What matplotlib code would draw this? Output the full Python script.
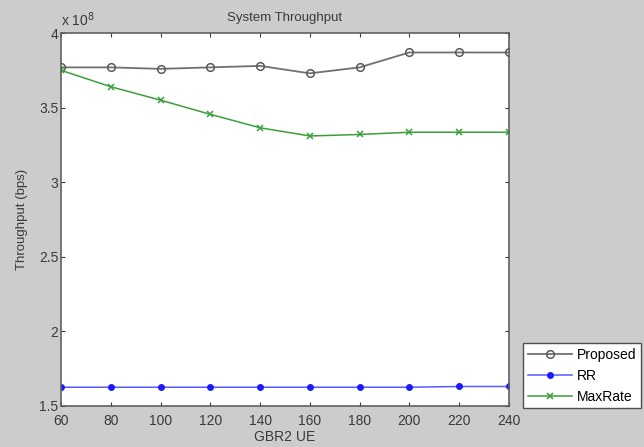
import matplotlib
matplotlib.use("Agg")
import matplotlib.pyplot as plt

# number of GBR2 UEs
gbr2_ue = [60, 80, 100, 120, 140, 160, 180, 200, 220, 240]

# throughput in units of 1e8 bps
proposed = [3.77, 3.77, 3.76, 3.77, 3.78, 3.73, 3.77, 3.87, 3.87, 3.87]
rr = [1.625, 1.625, 1.625, 1.625, 1.625, 1.625, 1.625, 1.625, 1.63, 1.63]
maxrate = [3.75, 3.64, 3.55, 3.455, 3.365, 3.31, 3.32, 3.335, 3.335, 3.335]

x_ticks = [60, 80, 100, 120, 140, 160, 180, 200, 220, 240]
y_ticks = [1.5, 2, 2.5, 3, 3.5, 4]
y_tick_labels = ["1.5", "2", "2.5", "3", "3.5", "4"]

plt.rcParams["font.family"] = ["Liberation Sans", "DejaVu Sans"]

fig = plt.figure(figsize=(6.44, 4.47), dpi=100, facecolor="#cccccc")
ax = fig.add_axes([0.095, 0.092, 0.695, 0.834])
ax.set_facecolor("white")

ax.plot(gbr2_ue, proposed, color="#707070", lw=1.3, marker="o", ms=5.5,
        mfc="none", mec="#5a5a5a", mew=1.1, label="Proposed")
ax.plot(gbr2_ue, rr, color="#5a5aff", lw=1.1, marker=".", ms=8,
        mfc="#1a1aff", mec="#1a1aff", label="RR")
ax.plot(gbr2_ue, maxrate, color="#3aa03a", lw=1.1, marker="x", ms=4,
        mew=1.1, label="MaxRate")

ax.set_xlim(60, 240)
ax.set_ylim(1.5, 4)
ax.set_xticks(x_ticks)
ax.set_yticks(y_ticks)
ax.set_yticklabels(y_tick_labels)
ax.tick_params(direction="in", top=True, right=True, length=3,
               labelsize=10, colors="#3a3a3a", pad=2)
ax.tick_params(axis="x", pad=6)
for spine in ax.spines.values():
    spine.set_color("#606060")
    spine.set_linewidth(1.2)

ax.set_title("System Throughput", fontsize=9.5, color="#3a3a3a", pad=9)
ax.set_xlabel("GBR2 UE", fontsize=10, color="#3a3a3a", labelpad=1)
ax.set_ylabel("Throughput (bps)", fontsize=9.5, color="#3a3a3a", labelpad=8)
ax.text(0.0, 1.012, r"x 10$^8$", transform=ax.transAxes, fontsize=10,
        color="#3a3a3a", ha="left", va="bottom")

fig.legend(loc="upper left", bbox_to_anchor=(0.812, 0.233), fontsize=10,
           frameon=True, fancybox=False, edgecolor="#505050",
           facecolor="white", framealpha=1.0, borderpad=0.35,
           handlelength=3.2, labelspacing=0.5, handletextpad=0.35,
           borderaxespad=0.0)

fig.savefig("out.png", dpi=100, facecolor=fig.get_facecolor())
